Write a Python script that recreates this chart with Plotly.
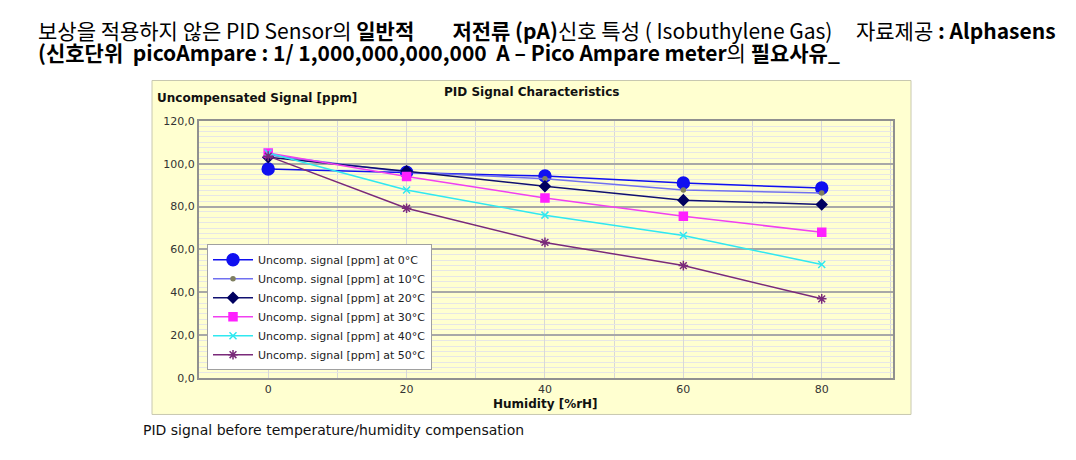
import plotly.graph_objects as go

# page body has an 8px margin, so the figure is 16px smaller than the window
W, H = 1060, 444
OFF_X = 8
# vertical placement calibrated against the rendered page
OFF_Y, SCALE_Y = 14.9, 0.965

humidity = [0, 20, 40, 60, 80]
sig_0c = [97.5, 96.0, 94.2, 91.0, 88.6]
sig_10c = [104.0, 96.0, 93.0, 87.7, 86.3]
sig_20c = [103.0, 96.5, 89.5, 83.0, 81.0]
sig_30c = [105.0, 94.0, 84.0, 75.5, 68.0]
sig_40c = [105.0, 87.7, 76.0, 66.5, 53.0]
sig_50c = [103.5, 79.2, 63.3, 52.5, 37.0]

y_ticks = [0, 20, 40, 60, 80, 100, 120]
x_ticks = [0, 20, 40, 60, 80]

series = [
  ("Uncomp. signal [ppm] at 0°C", sig_0c, "#1010F0", "circle", 12, "#1010F0"),
  ("Uncomp. signal [ppm] at 10°C", sig_10c, "#7070F0", "circle", 4, "#808060"),
  ("Uncomp. signal [ppm] at 20°C", sig_20c, "#101070", "diamond", 8, "#000060"),
  ("Uncomp. signal [ppm] at 30°C", sig_30c, "#F040F0", "square", 8, "#FF20FF"),
  ("Uncomp. signal [ppm] at 40°C", sig_40c, "#30E8F0", "x-thin-open", 7, "#30E8F0"),
  ("Uncomp. signal [ppm] at 50°C", sig_50c, "#7A2A7A", "asterisk-open", 8, "#7A2A7A"),
]


def px(x):
  return (x - OFF_X) / W


def py(y):
  return 1 - ((y - OFF_Y) / SCALE_Y) / H


fig = go.Figure()

for name, vals, lc, sym, size, mc in series:
  fig.add_trace(go.Scatter(
    x=humidity, y=vals, name=name, mode="lines+markers",
    line=dict(color=lc, width=1.5),
    marker=dict(symbol=sym, size=size, color=mc, line=dict(color=mc, width=1.5)),
  ))

axis_font = dict(family="DejaVu Sans", size=11, color="#333333")

fig.update_layout(
  width=W, height=H,
  margin=dict(l=0, r=0, t=0, b=0),
  paper_bgcolor="white",
  plot_bgcolor="white",
  separators=",.",
  xaxis=dict(
    domain=[px(199), px(893)], range=[-10, 90.3],
    tickvals=x_ticks, showgrid=True, gridcolor="#D8D8D8", gridwidth=1,
    minor=dict(dtick=10, tick0=0, showgrid=True, gridcolor="#D8D8D8", gridwidth=1),
    zeroline=False, showline=True, linecolor="#909090", linewidth=2, mirror=True,
    tickfont=axis_font, ticks="",
  ),
  yaxis=dict(
    domain=[py(377), py(121)], range=[0, 120],
    tickvals=y_ticks, tickformat=".1f",
    showgrid=True, gridcolor="#A8A8A8", gridwidth=2,
    minor=dict(dtick=2.5, showgrid=True, gridcolor="#E6E6E6", gridwidth=1),
    zeroline=False, showline=True, linecolor="#909090", linewidth=2, mirror=True,
    tickfont=axis_font, ticks="",
  ),
  legend=dict(
    x=px(207), y=py(369), xanchor="left", yanchor="bottom",
    bgcolor="white", bordercolor="#A0A0A0", borderwidth=1,
    font=dict(family="DejaVu Sans", size=11, color="#222222"),
    tracegroupgap=0, itemwidth=40,
  ),
  shapes=[
    dict(type="rect", xref="paper", yref="paper",
         x0=px(152), x1=px(911), y0=py(413), y1=py(81),
         fillcolor="#FFFFD0", line=dict(color="#C8C8B0", width=1), layer="below"),
  ],
)


def note(text, x, y, size, anchor="left", family="DejaVu Sans", color="#111111"):
  fig.add_annotation(
    text=text, x=px(x), y=py(y), xref="paper", yref="paper",
    xanchor=anchor, yanchor="middle", showarrow=False,
    font=dict(family=family, size=size, color=color),
  )


note("<b>PID Signal Characteristics</b>", 531, 92, 12, anchor="center")
note("<b>Uncompensated Signal [ppm]</b>", 155, 98, 12)
note("<b>Humidity [%rH]</b>", 545, 403, 12, anchor="center")
note("PID signal before temperature/humidity compensation", 141, 428, 14)

kr = "Noto Sans CJK KR"
note("보상을 적용하지 않은 PID Sensor의 <b>일반적        저전류 (pA)</b>신호 특성 ( Isobuthylene Gas)     자료제공<b> : Alphasens</b>",
     36, 31, 21, family=kr, color="#000000")
note("<b>(신호단위  picoAmpare : 1/ 1,000,000,000,000  A – Pico Ampare meter</b>의 <b>필요사유_</b>",
     36, 53, 21, family=kr, color="#000000")

fig.write_html("out.html")
